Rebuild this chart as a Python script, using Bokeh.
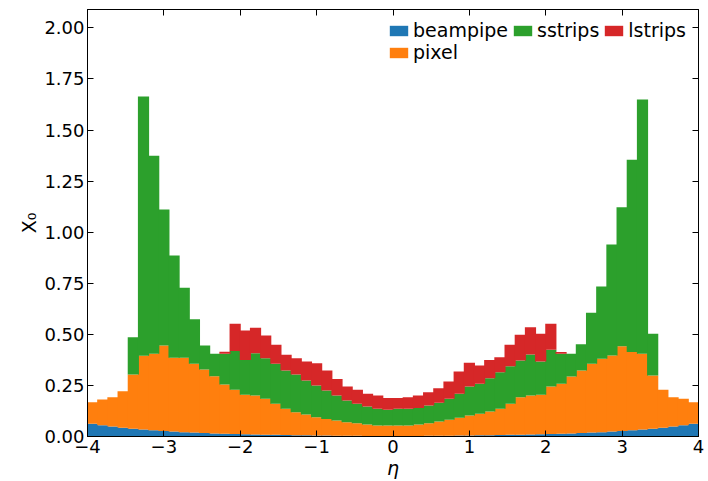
import numpy as np
from bokeh.plotting import figure
from bokeh.models import (ColumnDataSource, Legend, LegendItem, LinearAxis, FixedTicker,
                          CustomJSTickFormatter, Range1d, CustomLabelingPolicy)
from bokeh.embed import file_html
from bokeh.resources import INLINE

# ---- data ----
eta_min = -4.0
eta_max = 4.0
n_bins = 60

beampipe = [0.062, 0.055, 0.049, 0.043, 0.038, 0.034, 0.030, 0.027, 0.024, 0.021,
            0.019, 0.017, 0.015, 0.013, 0.012, 0.011, 0.010, 0.009, 0.008, 0.007,
            0.006, 0.006, 0.005, 0.005, 0.004, 0.004, 0.004, 0.003, 0.003, 0.003,
            0.003, 0.003, 0.003, 0.004, 0.004, 0.004, 0.005, 0.005, 0.006, 0.006,
            0.007, 0.008, 0.009, 0.010, 0.011, 0.012, 0.013, 0.015, 0.017, 0.019,
            0.021, 0.024, 0.027, 0.030, 0.034, 0.038, 0.043, 0.049, 0.055, 0.062]

pixel = [0.106, 0.126, 0.143, 0.179, 0.265, 0.361, 0.375, 0.418, 0.361, 0.364,
         0.337, 0.311, 0.280, 0.242, 0.217, 0.193, 0.191, 0.176, 0.152, 0.129,
         0.113, 0.102, 0.089, 0.081, 0.074, 0.066, 0.061, 0.056, 0.051, 0.051,
         0.051, 0.051, 0.056, 0.061, 0.069, 0.078, 0.087, 0.098, 0.105, 0.116,
         0.129, 0.152, 0.183, 0.191, 0.193, 0.233, 0.245, 0.279, 0.306, 0.337,
         0.359, 0.372, 0.415, 0.383, 0.371, 0.261, 0.186, 0.143, 0.130, 0.106]

sstrips = [0.0, 0.0, 0.0, 0.0, 0.183, 1.269, 0.969, 0.666, 0.501, 0.343,
           0.218, 0.117, 0.110, 0.150, 0.189, 0.171, 0.207, 0.198, 0.196, 0.187,
           0.184, 0.166, 0.156, 0.139, 0.123, 0.106, 0.095, 0.088, 0.082, 0.077,
           0.082, 0.082, 0.081, 0.087, 0.092, 0.103, 0.117, 0.142, 0.147, 0.163,
           0.179, 0.184, 0.180, 0.200, 0.163, 0.179, 0.147, 0.111, 0.129, 0.250,
           0.354, 0.544, 0.680, 0.941, 1.245, 0.204, 0.0, 0.0, 0.0, 0.0]

lstrips = [0.0, 0.0, 0.0, 0.0, 0.0, 0.0, 0.0, 0.0, 0.0, 0.0,
           0.0, 0.0, 0.0, 0.010, 0.134, 0.144, 0.124, 0.111, 0.093, 0.077,
           0.080, 0.093, 0.109, 0.098, 0.081, 0.069, 0.069, 0.062, 0.065, 0.058,
           0.053, 0.056, 0.061, 0.065, 0.071, 0.084, 0.109, 0.116, 0.090, 0.090,
           0.073, 0.105, 0.126, 0.134, 0.136, 0.128, 0.008, 0.0, 0.0, 0.0,
           0.0, 0.0, 0.0, 0.0, 0.0, 0.0, 0.0, 0.0, 0.0, 0.0]

x_ticks = [-4, -3, -2, -1, 0, 1, 2, 3, 4]
y_ticks = [0.0, 0.25, 0.5, 0.75, 1.0, 1.25, 1.5, 1.75, 2.0]

names = ["beampipe", "pixel", "sstrips", "lstrips"]
colors = ["#1f77b4", "#ff7f0e", "#2ca02c", "#d62728"]

edges = np.linspace(eta_min, eta_max, n_bins + 1)
centers = 0.5 * (edges[:-1] + edges[1:])
bw = edges[1] - edges[0]

src = ColumnDataSource(dict(x=centers, beampipe=beampipe, pixel=pixel,
                            sstrips=sstrips, lstrips=lstrips))

FONT = "DejaVu Sans"
FS = "18px"

p = figure(width=708, height=481, output_backend="svg", toolbar_location=None,
           x_range=Range1d(eta_min, eta_max), y_range=Range1d(0, 2.09),
           min_border_left=87, min_border_right=10, min_border_top=9, min_border_bottom=44)
p.background_fill_color = "white"
p.border_fill_color = "white"
p.grid.visible = False
p.outline_line_color = "black"
p.outline_line_width = 1

rs = p.vbar_stack(names, x="x", width=bw * 1.1, color=colors, line_color=None,
                  source=src)

minus_fmt = CustomJSTickFormatter(code="return tick < 0 ? '\u2212' + Math.abs(tick) : String(tick);")

for ax in p.xaxis:
    ax.ticker = FixedTicker(ticks=x_ticks)
    ax.formatter = minus_fmt
    ax.axis_label = "η"
    ax.axis_label_text_font_style = "italic"
for ax in p.yaxis:
    ax.ticker = FixedTicker(ticks=y_ticks)
    ax.formatter = CustomJSTickFormatter(code="return tick.toFixed(2);")
    ax.axis_label = "X₀"
    ax.axis_label_text_font_style = "normal"

for ax in list(p.xaxis) + list(p.yaxis):
    ax.major_tick_in = 6
    ax.major_tick_out = 0
    ax.minor_tick_in = 0
    ax.minor_tick_out = 0
    ax.major_label_text_font = FONT
    ax.major_label_text_font_size = FS
    ax.major_label_text_color = "black"
    ax.axis_label_text_font = FONT
    ax.axis_label_text_font_size = "19px"
    ax.axis_label_text_color = "black"
    ax.axis_line_color = "black"
    ax.major_tick_line_color = "black"
    ax.major_label_standoff = 3
    ax.axis_label_standoff = 1

hide_labels = CustomLabelingPolicy(code="""
for (const i of indices)
  indices.unset(i)
""")

for loc, ticks in (("above", x_ticks), ("right", y_ticks)):
    a = LinearAxis(ticker=FixedTicker(ticks=ticks), major_tick_in=6, major_tick_out=0,
                   minor_tick_in=0, minor_tick_out=0, major_label_policy=hide_labels,
                   major_label_text_font_size="0px",
                   major_label_standoff=0, axis_line_color="black",
                   major_tick_line_color="black")
    p.add_layout(a, loc)

leg_common = dict(glyph_width=23, glyph_height=13, label_standoff=3, spacing=3,
                  padding=0, margin=0, border_line_color=None, background_fill_alpha=0,
                  label_text_font=FONT, label_text_font_size="19px", label_height=20,
                  label_text_color="black")
leg1 = Legend(items=[LegendItem(label="beampipe", renderers=[rs[0]]),
                     LegendItem(label="sstrips", renderers=[rs[2]]),
                     LegendItem(label="lstrips", renderers=[rs[3]])],
              orientation="horizontal", location=(300, 395), **leg_common)
leg2 = Legend(items=[LegendItem(label="pixel", renderers=[rs[1]])],
              orientation="horizontal", location=(300, 373), **leg_common)
p.add_layout(leg1, "center")
p.add_layout(leg2, "center")

open("out.html", "w").write(file_html(p, INLINE))
